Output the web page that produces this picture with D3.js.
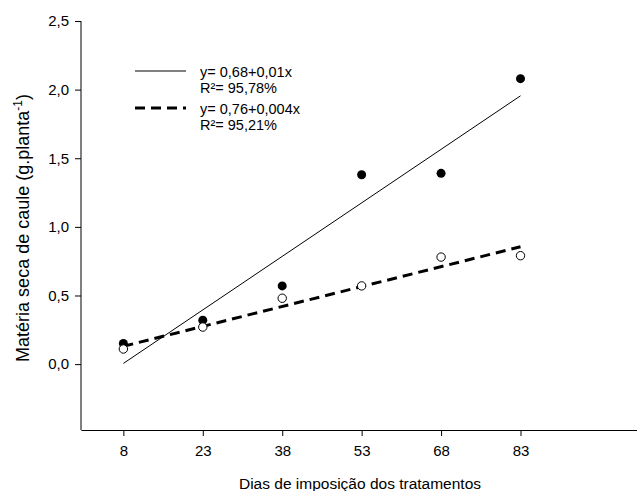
<!DOCTYPE html>
<html><head><meta charset="utf-8">
<script src="https://cdn.jsdelivr.net/npm/d3@7"></script>
<style>body{margin:0;background:#fff}svg{display:block}text{font-family:"Liberation Sans",Arial,sans-serif}</style>
</head><body>
<svg id="c" width="637" height="491"></svg>
<script>
const days = [8, 23, 38, 53, 68, 83];
const filledValues = [0.15, 0.32, 0.57, 1.38, 1.39, 2.08];
const openValues = [0.11, 0.27, 0.48, 0.57, 0.78, 0.79];
const fitX = [8, 83];
const filledFit = [0.005, 1.955];
const openFit = [0.13, 0.855];
const yTicks = [0, 0.5, 1.0, 1.5, 2.0, 2.5];
const xTicks = [8, 23, 38, 53, 68, 83];
const legendLabels = [["y= 0,68+0,01x", "R²= 95,78%"], ["y= 0,76+0,004x", "R²= 95,21%"]];

const svg = d3.select("#c");
const x = d3.scaleLinear().domain([0, 105]).range([81, 637]);
const y = d3.scaleLinear().domain([-0.48, 2.5]).range([430, 21]);
const fmt = d => d3.format(".1f")(d).replace(".", ",");

// y axis
const ya = svg.append("g").attr("transform", `translate(${x(0)},0)`)
  .call(d3.axisLeft(y).tickValues(yTicks).tickFormat(fmt).tickSize(6).tickSizeOuter(0));
ya.select(".domain").attr("d", `M0,${y(2.5)}V${y(-0.48)}`);
ya.selectAll("text").attr("font-size", 15).attr("fill", "#000").attr("x", -12);

// x axis
const xa = svg.append("g").attr("transform", `translate(0,${y(-0.48)})`)
  .call(d3.axisBottom(x).tickValues(xTicks).tickFormat(d3.format("d")).tickSize(6).tickSizeOuter(0));
xa.selectAll("text").attr("font-size", 15).attr("fill", "#000").attr("y", 15);
xa.selectAll(".tick line").attr("y1", 1);

// titles
svg.append("text").attr("x", 360).attr("y", 489).attr("text-anchor", "middle").attr("font-size", 15.5)
  .text("Dias de imposição dos tratamentos");
const yt = svg.append("text").attr("transform", `translate(29,228) rotate(-90)`).attr("text-anchor", "middle").attr("font-size", 18);
yt.append("tspan").text("Matéria seca de caule (g.planta");
yt.append("tspan").attr("font-size", 12).attr("dy", -7).text("-1");
yt.append("tspan").attr("dy", 7).text(")");

// fit lines
const line = d3.line().x(d => x(d[0])).y(d => y(d[1]));
svg.append("path").attr("d", line(d3.zip(fitX, filledFit))).attr("stroke", "#000").attr("stroke-width", 1).attr("fill", "none");
svg.append("path").attr("d", line(d3.zip(fitX, openFit))).attr("stroke", "#000").attr("stroke-width", 3).attr("stroke-dasharray", "10,6").attr("fill", "none");

// points
svg.append("g").selectAll("circle").data(d3.zip(days, filledValues)).join("circle")
  .attr("cx", d => x(d[0])).attr("cy", d => y(d[1])).attr("r", 4.5).attr("fill", "#000");
svg.append("g").selectAll("circle").data(d3.zip(days, openValues)).join("circle")
  .attr("cx", d => x(d[0])).attr("cy", d => y(d[1])).attr("r", 4.2).attr("fill", "#fff").attr("stroke", "#000").attr("stroke-width", 1);

// legend
const lg = svg.append("g");
lg.append("line").attr("x1", 135).attr("x2", 186).attr("y1", 71).attr("y2", 71).attr("stroke", "#000").attr("stroke-width", 1);
lg.append("line").attr("x1", 135).attr("x2", 186).attr("y1", 108).attr("y2", 108).attr("stroke", "#000").attr("stroke-width", 3).attr("stroke-dasharray", "10,6");
legendLabels.forEach((lab, i) => {
  lab.forEach((t, j) => {
    lg.append("text").attr("x", 200).attr("y", 76.5 + i * 37 + j * 16).attr("font-size", 14.5).text(t);
  });
});
</script>
</body></html>
